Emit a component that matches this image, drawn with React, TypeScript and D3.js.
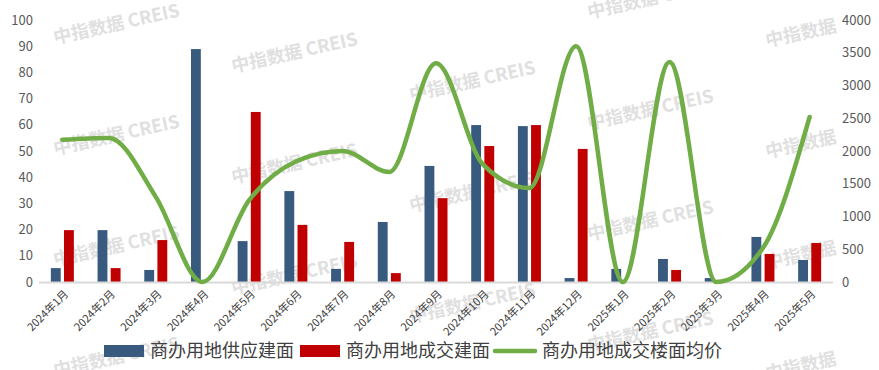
import React from "react";
import * as d3 from "d3";

const categories = [
  "2024年1月", "2024年2月", "2024年3月", "2024年4月", "2024年5月", "2024年6月",
  "2024年7月", "2024年8月", "2024年9月", "2024年10月", "2024年11月", "2024年12月",
  "2025年1月", "2025年2月", "2025年3月", "2025年4月", "2025年5月",
];
const supplyArea = [5.3, 19.8, 4.6, 88.9, 15.6, 34.7, 5, 22.9, 44.3, 59.9, 59.5, 1.5, 5, 8.8, 1.5, 17.2, 8.4];
const dealArea = [19.8, 5.3, 16, 0, 64.9, 21.8, 15.3, 3.4, 32, 51.9, 59.9, 50.8, 0, 4.6, 0, 10.7, 14.9];
const avgPrice = [2170, 2200, 1300, 0, 1250, 1840, 2000, 1680, 3340, 1800, 1435, 3600, 0, 3360, 0, 520, 2520];
const leftTicks = [0, 10, 20, 30, 40, 50, 60, 70, 80, 90, 100];
const rightTicks = [0, 500, 1000, 1500, 2000, 2500, 3000, 3500, 4000];
const seriesNames = ["商办用地供应建面", "商办用地成交建面", "商办用地成交楼面均价"];
const watermarkText = "中指数据 CREIS";

const W = 879;
const H = 370;
const BLUE = "#385A7E";
const RED = "#C00000";
const GREEN = "#70AD47";
const FONT = "'Noto Sans CJK SC', 'Noto Sans', sans-serif";

export default function App() {
  const x = d3.scaleBand<string>().domain(categories).range([39, 833]).paddingInner(0).paddingOuter(0);
  const x1 = d3.scaleBand<string>().domain(["s", "d"]).range([-11.5, 11.5]).paddingInner(0.25);
  const yL = d3.scaleLinear().domain([0, 100]).range([282, 20]);
  const yR = d3.scaleLinear().domain([0, 4000]).range([282, 20]);
  const cx = (c: string) => (x(c) as number) + x.bandwidth() / 2;

  const line = d3
    .line<number>()
    .x((_, i) => cx(categories[i]))
    .y((d) => yR(d))
    .curve(d3.curveMonotoneX);

  const marks: { x: number; y: number; t: string }[] = [];
  for (let col = 0; col < 5; col++) {
    for (let k = -1; k < 4; k++) {
      const wx = 55 + 178 * col;
      const wy = 44 + 28.5 * col + 111 * k;
      if (wy < 0 || wy > 400) continue;
      marks.push({ x: wx, y: wy, t: col === 4 ? "中指数据" : watermarkText });
    }
  }

  return (
    <svg
      width={W}
      height={H}
      style={{ position: "absolute", left: 0, top: 0, display: "block", background: "#fff" }}
      fontFamily={FONT}
    >
      <rect width={W} height={H} fill="#fff" />
      {marks.map((m, i) => (
        <text
          key={"wm" + i}
          x={m.x}
          y={m.y}
          fontSize={18}
          fontWeight="bold"
          fill="#e0e0e0"
          transform={`rotate(-12.5, ${m.x}, ${m.y})`}
        >
          {m.t}
        </text>
      ))}

      {leftTicks.map((t) => (
        <text key={"l" + t} x={33} y={yL(t)} dy="0.35em" textAnchor="end" fontSize={13} fill="#595959">
          {t}
        </text>
      ))}
      {rightTicks.map((t) => (
        <text key={"r" + t} x={842} y={yR(t)} dy="0.35em" textAnchor="start" fontSize={13} fill="#595959">
          {t}
        </text>
      ))}

      {categories.map((c, i) => (
        <g key={"b" + c}>
          <rect
            x={cx(c) + (x1("s") as number)}
            y={yL(supplyArea[i])}
            width={x1.bandwidth()}
            height={yL(0) - yL(supplyArea[i])}
            fill={BLUE}
          />
          <rect
            x={cx(c) + (x1("d") as number)}
            y={yL(dealArea[i])}
            width={x1.bandwidth()}
            height={yL(0) - yL(dealArea[i])}
            fill={RED}
          />
        </g>
      ))}

      <line x1={39} x2={833} y1={yL(0) + 0.5} y2={yL(0) + 0.5} stroke="#d9d9d9" strokeWidth={2} />

      <path d={line(avgPrice) || ""} fill="none" stroke={GREEN} strokeWidth={4.5} strokeLinecap="round" strokeLinejoin="round" />

      {categories.map((c) => (
        <text
          key={"x" + c}
          transform={`translate(${cx(c) + 4}, 292) rotate(-45)`}
          textAnchor="end"
          dy="0.35em"
          fontSize={11}
          fill="#404040"
        >
          {c}
        </text>
      ))}

      <g>
        <rect x={104} y={345} width={40} height={12} fill={BLUE} />
        <text x={150} y={357} fontSize={18} fill="#404040">{seriesNames[0]}</text>
        <rect x={300} y={345} width={40} height={12} fill={RED} />
        <text x={346} y={357} fontSize={18} fill="#404040">{seriesNames[1]}</text>
        <line x1={495} x2={535} y1={351} y2={351} stroke={GREEN} strokeWidth={4.5} strokeLinecap="round" />
        <text x={542} y={357} fontSize={18} fill="#404040">{seriesNames[2]}</text>
      </g>
    </svg>
  );
}
